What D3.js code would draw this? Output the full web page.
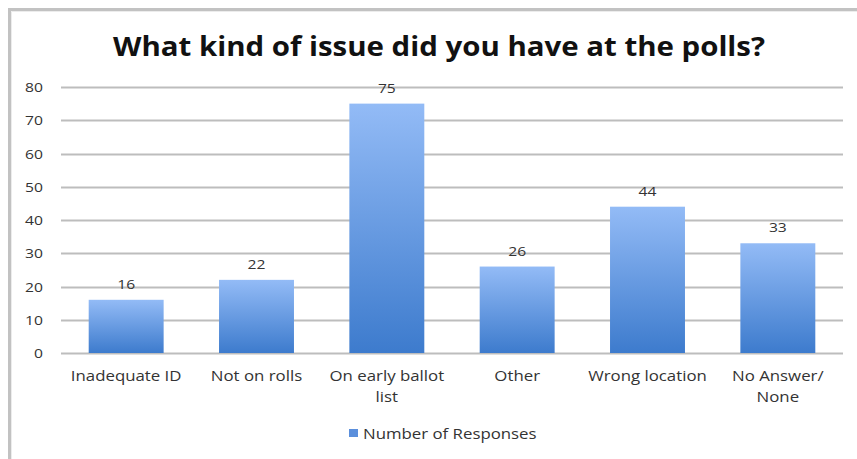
<!DOCTYPE html>
<html><head><meta charset="utf-8">
<script src="https://cdn.jsdelivr.net/npm/d3@7"></script>
<style>body{margin:0;background:#fff}svg{display:block}</style>
</head><body>
<svg id="c" width="857" height="459"></svg>
<script>
const categories = [["Inadequate ID"],["Not on rolls"],["On early ballot","list"],["Other"],["Wrong location"],["No Answer/","None"]];
const values = [16, 22, 75, 26, 44, 33];
const yTicks = [0,10,20,30,40,50,60,70,80];
const title = "What kind of issue did you have at the polls?";
const seriesName = "Number of Responses";

const svg = d3.select("#c");
const font = "'Open Sans', sans-serif";
const SX = 1.16; // horizontal stretch of the reference's lettering

function stretched(parent, px, py, anchor){
  return parent.append("g").attr("transform",`translate(${px},${py}) scale(${SX},1)`)
    .append("text").attr("x",0).attr("y",0).attr("text-anchor",anchor).attr("font-family",font);
}

// frame
svg.append("path").attr("d","M9.5,480 V9.5 H900").attr("fill","none").attr("stroke","#c2c2c2").attr("stroke-width",3);
svg.append("path").attr("d","M11.5,480 V11.5 H900").attr("fill","none").attr("stroke","#ececec").attr("stroke-width",1);

const defs = svg.append("defs");
const g = defs.append("linearGradient").attr("id","bg").attr("x1",0).attr("y1",0).attr("x2",0).attr("y2",1);
g.append("stop").attr("offset","0%").attr("stop-color","#93bbf6");
g.append("stop").attr("offset","100%").attr("stop-color","#3d7bcd");

const x = d3.scaleBand().domain(d3.range(values.length)).range([61,843]).paddingInner(0.425).paddingOuter(0.2125);
const y = d3.scaleLinear().domain([0,80]).range([353,87]);

// gridlines
svg.append("g").selectAll("line").data(yTicks).join("line")
  .attr("x1",61).attr("x2",843).attr("y1",d=>Math.round(y(d))+0.5).attr("y2",d=>Math.round(y(d))+0.5)
  .attr("stroke","#bdbdbd").attr("stroke-width",2);

// y axis labels
const ya = svg.append("g");
yTicks.forEach(d=>{
  stretched(ya, 43, y(d)+5, "end").attr("font-size",13.5).attr("fill","#333").text(d);
});

// bars
svg.append("g").selectAll("rect").data(values).join("rect")
  .attr("x",(d,i)=>x(i)).attr("width",x.bandwidth())
  .attr("y",d=>y(d)).attr("height",d=>y(0)-y(d)).attr("fill","url(#bg)");

// value labels
const vl = svg.append("g");
values.forEach((d,i)=>{
  stretched(vl, x(i)+x.bandwidth()/2, y(d)-11, "middle").attr("font-size",13.5).attr("fill","#333").text(d);
});

// category labels
const cl = svg.append("g");
categories.forEach((lines,i)=>{
  lines.forEach((l,j)=>{
    stretched(cl, x(i)+x.bandwidth()/2, 381+j*20.5, "middle").attr("font-size",14.5).attr("fill","#333").text(l);
  });
});

// title
svg.append("text").attr("x",439).attr("y",56).attr("text-anchor","middle")
  .attr("font-family",font).attr("font-weight","bold").attr("font-size",26.5).attr("fill","#111")
  .attr("textLength",652).attr("lengthAdjust","spacingAndGlyphs").text(title);

// legend
svg.append("rect").attr("x",349).attr("y",429).attr("width",9).attr("height",8).attr("fill","#5b8fdc");
stretched(svg, 363, 439, "start").attr("font-size",14.5).attr("fill","#333").text(seriesName);
</script>
</body></html>
